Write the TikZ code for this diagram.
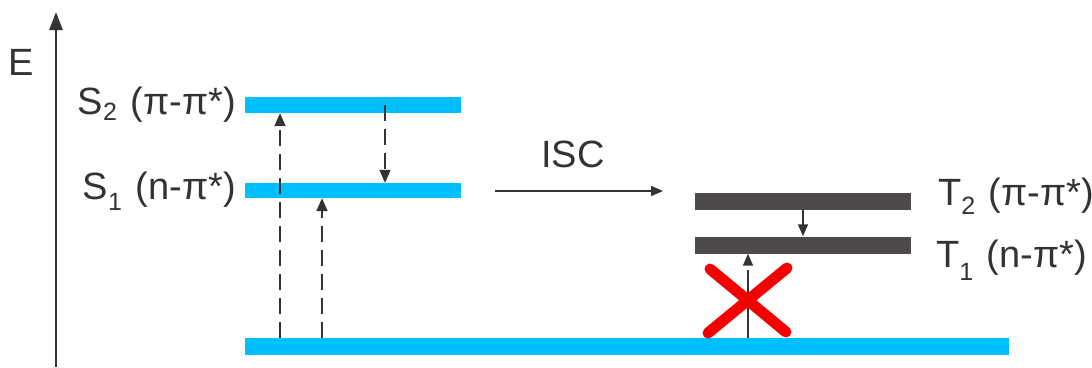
\documentclass[tikz,border=0pt]{standalone}
\usepackage{fontspec}
\setmainfont{Liberation Sans}
\usetikzlibrary{arrows.meta}
\definecolor{levelblue}{RGB}{0,191,255}
\definecolor{tripletgray}{RGB}{78,74,74}
\definecolor{inkgray}{RGB}{51,51,51}
\definecolor{crossred}{RGB}{245,0,0}
% lowered subscript for state labels
\newcommand\statesub[2]{\raisebox{-#1}{\fontsize{25}{25}\selectfont #2}\hspace{3pt}}
\begin{document}
\begin{tikzpicture}[x=1pt,y=-1pt,
  level/.style={draw=none,fill=levelblue,minimum height=16pt,inner sep=0pt},
  tlevel/.style={draw=none,fill=tripletgray,minimum width=216pt,minimum height=17pt,inner sep=0pt},
  lbl/.style={font=\fontsize{38}{44}\selectfont,text=inkgray,inner sep=0pt},
  dasharrow/.style={draw=inkgray,line width=2pt,dash pattern=on 16pt off 8pt,
    -{Triangle[width=11pt,length=13pt]}},
  solidarrow/.style={draw=inkgray,line width=1.5pt,-{Triangle[width=10pt,length=12pt]}}]
\useasboundingbox (0,0) rectangle (1092,367);

% energy axis
\coordinate (axbot) at (56,367);
\coordinate (axtop) at (56,12);
\draw[inkgray,line width=2.8pt,-{Triangle[width=13pt,length=18pt]}] (axbot) -- (axtop);
\node[lbl,anchor=base] (E) at (21,75) {E};

% energy levels
\node[level,minimum width=216pt] (s2) at (353,105) {};
\node[level,minimum width=216pt,minimum height=15pt] (s1) at (353,190.5) {};
\node[level,minimum width=764pt,minimum height=17pt] (g) at (627,346.5) {};
\node[tlevel] (t2) at (803,201) {};
\node[tlevel] (t1) at (803,245) {};

% level labels
\node[lbl,anchor=base east] (s2l) at (236,114) {S\statesub{6pt}{2} (π-π*)};
\node[lbl,anchor=base east] (s1l) at (236,199) {S\statesub{11pt}{1} (n-π*)};
\node[lbl,anchor=base west] (t2l) at (938,205) {T\statesub{9pt}{2} (π-π*)};
\node[lbl,anchor=base west] (t1l) at (936,267) {T\statesub{13pt}{1} (n-π*)};

% transition positions
\coordinate (xa) at (280,0);
\coordinate (xb) at (322,0);
\coordinate (xc) at (385,0);
\coordinate (xd) at (748,0);

% absorption and internal conversion
\draw[dasharrow] (g.north -| xa) -- (s2.south -| xa);
\draw[dasharrow] (g.north -| xb) -- (s1.south -| xb);
\draw[dasharrow] (s2.center -| xc) -- (s1.north -| xc);
\draw[solidarrow] (t2.south) -- (t1.north);
\draw[inkgray,line width=1.5pt,dash pattern=on 30pt off 8pt,-{Triangle[width=10pt,length=12pt]}]
  (g.north -| xd) -- (t1.south -| xd);

% intersystem crossing
\coordinate (iscA) at (495,191);
\coordinate (iscB) at (663,191);
\draw[solidarrow,line width=1.8pt] (iscA) -- (iscB);
\node[lbl,anchor=base] (isc) at (573,167) {ISC};

% forbidden direct excitation
\coordinate (xc1) at (710,269);
\coordinate (xc2) at (786,332);
\coordinate (xc3) at (787,268);
\coordinate (xc4) at (708,333);
\draw[crossred,line width=11pt,line cap=round] (xc1) -- (xc2) (xc3) -- (xc4);
\end{tikzpicture}
\end{document}
